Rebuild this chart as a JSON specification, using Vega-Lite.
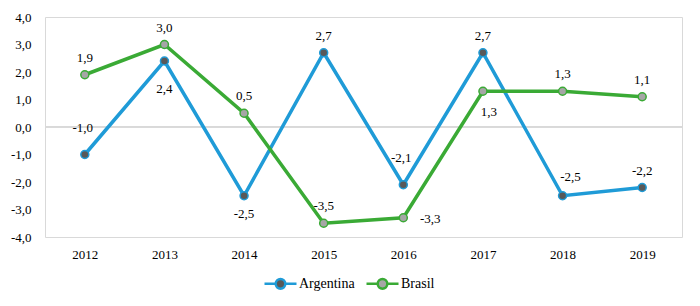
{
  "$schema": "https://vega.github.io/schema/vega-lite/v6.json",
  "width": 637,
  "height": 220,
  "autosize": "none",
  "padding": {"left": 45, "top": 17, "right": 18, "bottom": 69},
  "background": "white",
  "config": {
    "locale": {"number": {"decimal": ",", "thousands": ".", "grouping": [3], "currency": ["", ""], "minus": "-"}},
    "view": {"stroke": "#d9d9d9", "strokeWidth": 1},
    "axis": {"domain": false, "ticks": false, "grid": false, "labelFont": "Liberation Serif, Times New Roman, serif", "labelFontSize": 13, "labelColor": "#000000", "title": null},
    "legend": {"labelFont": "Liberation Serif, Times New Roman, serif"},
    "text": {"font": "Liberation Serif, Times New Roman, serif"},
    "font": "Liberation Serif, Times New Roman, serif"
  },
  "data": {"values": [
    {"country": "Argentina", "year": "2012", "value": -1.0},
    {"country": "Argentina", "year": "2013", "value": 2.4},
    {"country": "Argentina", "year": "2014", "value": -2.5},
    {"country": "Argentina", "year": "2015", "value": 2.7},
    {"country": "Argentina", "year": "2016", "value": -2.1},
    {"country": "Argentina", "year": "2017", "value": 2.7},
    {"country": "Argentina", "year": "2018", "value": -2.5},
    {"country": "Argentina", "year": "2019", "value": -2.2},
    {"country": "Brasil", "year": "2012", "value": 1.9},
    {"country": "Brasil", "year": "2013", "value": 3.0},
    {"country": "Brasil", "year": "2014", "value": 0.5},
    {"country": "Brasil", "year": "2015", "value": -3.5},
    {"country": "Brasil", "year": "2016", "value": -3.3},
    {"country": "Brasil", "year": "2017", "value": 1.3},
    {"country": "Brasil", "year": "2018", "value": 1.3},
    {"country": "Brasil", "year": "2019", "value": 1.1}
  ]},
  "encoding": {
    "x": {"field": "year", "type": "ordinal", "scale": {"type": "point", "padding": 0.5}, "axis": {"labelAngle": 0, "labelPadding": 11}},
    "y": {"field": "value", "type": "quantitative", "scale": {"domain": [-4, 4], "nice": false, "zero": false}, "axis": {"values": [-4, -3, -2, -1, 0, 1, 2, 3, 4], "format": ".1f", "labelPadding": 14}}
  },
  "layer": [
    {
      "mark": {"type": "rule", "color": "#d9d9d9", "strokeWidth": 1},
      "encoding": {"x": null, "y": {"datum": 0, "type": "quantitative"}}
    },
    {
      "mark": {"type": "line", "strokeWidth": 3.5},
      "encoding": {
        "stroke": {
          "field": "country", "type": "nominal",
          "scale": {"domain": ["Argentina", "Brasil"], "range": ["#1f9bd7", "#3aaa35"]},
          "legend": {
            "title": null, "orient": "none", "legendX": 218, "legendY": 249, "direction": "horizontal",
            "symbolType": "M-1,0L-0.3,0M0.3,0L1,0M-0.3,0A0.3,0.3 0 1,1 0.3,0A0.3,0.3 0 1,1 -0.3,0Z",
            "symbolSize": 1024, "symbolStrokeWidth": 2.5,
            "labelFont": "Liberation Serif, Times New Roman, serif", "labelFontSize": 14, "labelColor": "#000000",
            "labelOffset": 1, "columnPadding": 6,
            "encode": {"symbols": {"update": {"fill": {"signal": "datum.value === 'Argentina' ? '#595959' : '#a6a6a6'"}, "opacity": {"value": 1}, "fillOpacity": {"value": 1}}}}
          }
        }
      }
    },
    {
      "mark": {"type": "point", "filled": true, "size": 64, "strokeWidth": 1.5, "opacity": 1},
      "encoding": {
        "stroke": {"field": "country", "type": "nominal"},
        "fill": {"field": "country", "type": "nominal", "scale": {"domain": ["Argentina", "Brasil"], "range": ["#595959", "#a6a6a6"]}, "legend": null}
      }
    },
    {
      "transform": [{"filter": "(datum.country == 'Argentina' && indexof(['2015','2017','2019'], datum.year) >= 0) || (datum.country == 'Brasil' && indexof(['2012','2013','2014','2015','2018','2019'], datum.year) >= 0)"}],
      "mark": {"type": "text", "fontSize": 13, "baseline": "middle", "dy": -17, "color": "#000000"},
      "encoding": {"text": {"field": "value", "type": "quantitative", "format": ".1f"}}
    },
    {
      "transform": [{"filter": "datum.country == 'Argentina' && (datum.year == '2012' || datum.year == '2016')"}],
      "mark": {"type": "text", "fontSize": 13, "baseline": "middle", "dy": -27, "dx": -2, "color": "#000000"},
      "encoding": {"text": {"field": "value", "type": "quantitative", "format": ".1f"}}
    },
    {
      "transform": [{"filter": "datum.country == 'Argentina' && datum.year == '2018'"}],
      "mark": {"type": "text", "fontSize": 13, "baseline": "middle", "dy": -19, "dx": 8, "color": "#000000"},
      "encoding": {"text": {"field": "value", "type": "quantitative", "format": ".1f"}}
    },
    {
      "transform": [{"filter": "datum.country == 'Argentina' && datum.year == '2013'"}],
      "mark": {"type": "text", "fontSize": 13, "baseline": "middle", "dy": 28, "color": "#000000"},
      "encoding": {"text": {"field": "value", "type": "quantitative", "format": ".1f"}}
    },
    {
      "transform": [{"filter": "datum.country == 'Argentina' && datum.year == '2014'"}],
      "mark": {"type": "text", "fontSize": 13, "baseline": "middle", "dy": 18, "color": "#000000"},
      "encoding": {"text": {"field": "value", "type": "quantitative", "format": ".1f"}}
    },
    {
      "transform": [{"filter": "datum.country == 'Brasil' && datum.year == '2017'"}],
      "mark": {"type": "text", "fontSize": 13, "baseline": "middle", "dy": 21, "dx": 6, "color": "#000000"},
      "encoding": {"text": {"field": "value", "type": "quantitative", "format": ".1f"}}
    },
    {
      "transform": [{"filter": "datum.country == 'Brasil' && datum.year == '2016'"}],
      "mark": {"type": "text", "fontSize": 13, "baseline": "middle", "dy": 1, "dx": 27, "color": "#000000"},
      "encoding": {"text": {"field": "value", "type": "quantitative", "format": ".1f"}}
    }
  ]
}
